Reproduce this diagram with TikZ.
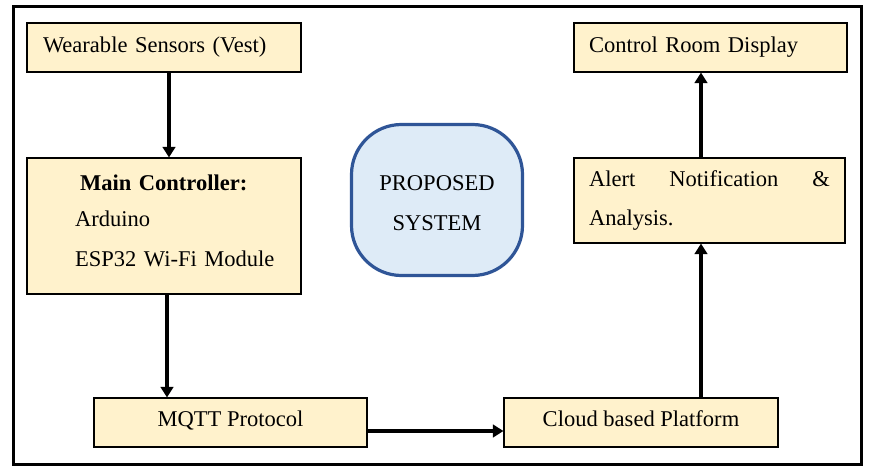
\documentclass[tikz,border=0pt]{standalone}
\usepackage{fontspec}
\setmainfont{Liberation Serif}
\usetikzlibrary{arrows.meta}
\definecolor{boxfill}{HTML}{FFF2CC}
\definecolor{propfill}{HTML}{DEEBF7}
\definecolor{propline}{HTML}{2F5597}
\begin{document}
\begin{tikzpicture}[x=0.75pt,y=-0.75pt,
  every node/.style={font=\fontsize{16.9}{29}\selectfont},
  blockbox/.style={draw=black, line width=0.8pt, fill=boxfill, inner ysep=0pt, minimum height=36.75pt},
  lowbox/.style={blockbox, text height=11.5pt, text depth=4.9pt},
  arr/.style={line width=2.6pt, -{Triangle[length=8pt,width=9.5pt]}}]
\useasboundingbox (0,0) rectangle (875,474);
\draw[line width=2.25pt] (13,7) rectangle (861.5,464.5);
% boxes
\node[blockbox, inner xsep=12pt, text width=181.5pt, align=left] (w) at (164,47.5) {Wearable Sensors (Vest)};
\node[blockbox, inner xsep=12pt, text width=181.5pt, align=left, minimum height=102pt] (m) at (164,226)
  {\hspace*{27.75pt}\textbf{Main Controller:}\\[-2pt]\hspace*{24pt}Arduino\\[1pt]\hspace*{24pt}ESP32 Wi-Fi Module\rule[-7.5pt]{0pt}{1pt}};
\node[blockbox, inner xsep=11.25pt, text width=182.25pt, align=left] (r) at (710.5,47.5) {Control Room Display};
\node[blockbox, inner xsep=11.25pt, text width=180.75pt, align=left, minimum height=63.75pt] (a) at (709.5,200.5)
  {\hbox to \linewidth{Alert\hfill Notification\hfill\&}\\Analysis.};
\node[lowbox, minimum width=204.75pt] (q) at (230.5,422.5) {MQTT Protocol};
\node[lowbox, minimum width=205.5pt] (c) at (641,422.5) {Cloud based Platform};
\node[draw=propline, line width=2.4pt, fill=propfill, rounded corners=37.5pt,
  minimum width=128.25pt, minimum height=113.25pt, align=center, font=\fontsize{16.9}{30}\selectfont] (p) at (437,200)
  {\rule{0pt}{16.5pt}PROPOSED\\SYSTEM};
% arrows
\draw[arr] ([xshift=3.75pt]w.south) -- ([xshift=3.75pt]m.north);
\draw[arr] ([xshift=2.25pt]m.south) -- ([xshift=2.25pt]m.south |- q.north);
\draw[arr] ([yshift=-6.375pt]q.east) -- ([yshift=-6.375pt]c.west);
\draw[arr] ([xshift=45pt]c.north) -- ([xshift=45pt]c.north |- a.south);
\draw[arr] ([xshift=-6.375pt]a.north) -- ([xshift=-6.375pt]a.north |- r.south);
\end{tikzpicture}
\end{document}
